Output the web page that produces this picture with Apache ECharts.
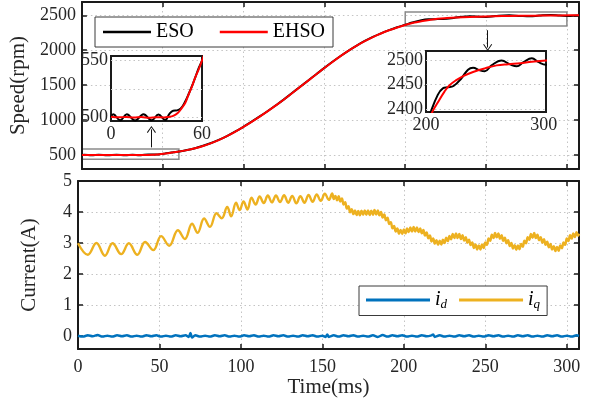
<!DOCTYPE html>
<html>
<head>
<meta charset="utf-8">
<script src="https://cdn.jsdelivr.net/npm/echarts@6/dist/echarts.min.js"></script>
<style>
  html, body { margin: 0; padding: 0; background: #fff; }
  #chart { width: 595px; height: 405px; }
</style>
</head>
<body>
<div id="chart"></div>
<script>
// Speed response, [time (ms), speed (rpm)]
const esoSpeed = [
  [0,500.5],[1.5,502.9],[6,497.6],[10.4,502.9],[15.9,497.4],[21.4,503.0],[26.9,497.6],[31.3,502.8],[35.7,497.8],
  [38.6,503.5],[41,506.0],[43.5,506.3],[46,508.0],[48.5,513],[51,520],[53.5,528],[55.5,535],[58,544],[60,550],
  [65,571],[70,598],[75,632],[80,672],[85,720],[90,775],[95,837],[100,905],[105,977],[110,1052],[115,1130],
  [120,1212],[125,1297],[130,1387],[135,1477],[140,1567],[145,1657],[150,1747],[155,1834],[160,1917],[165,1995],
  [170,2067],[175,2132],[180,2190],[185,2241],[190,2287],[195,2328],[200,2364],[204.3,2396.6],[210,2429.6],
  [214.3,2442.8],[218.5,2444.8],[223.4,2447.4],[230,2462.6],[235.7,2480.4],[240,2484.3],[245.7,2479],[250,2477],
  [255.7,2489],[264.3,2498.8],[271.4,2491],[277.2,2487],[282.8,2495.5],[290,2503.4],[295.7,2495.5],[302,2490.3],
  [307.5,2496]
];
const ehsoSpeed = [
  [0,500.8],[5,500.2],[10,500.6],[15,500.0],[20,500.4],[25,499.9],[30,500.3],[35,500.1],[38,500.6],[41,501.5],
  [44,504],[46.5,508],[49,513],[51,519.7],[53,526],[55.5,535],[58,543],[60,550],
  [65,570],[70,597],[75,630],[80,670],[85,718],[90,773],[95,835],[100,903],[105,975],[110,1050],[115,1128],
  [120,1210],[125,1295],[130,1385],[135,1475],[140,1565],[145,1655],[150,1745],[155,1832],[160,1915],[165,1993],
  [170,2065],[175,2130],[180,2188],[185,2239],[190,2285],[195,2326],[200,2362],[205.7,2396.6],[210,2414],
  [215.7,2436.2],[220,2449],[225.7,2459.3],[232,2468],[240,2475.7],[250,2483],[260,2489],[270,2491.5],
  [280,2493.5],[290,2496.5],[302,2498.8],[307.5,2499.5]
];

// Stator currents, [time (ms), current (A)]
const idCurrent = [
  [0,0.01],[3,-0.02],[6,0.02],[9,-0.01],[12,0.03],[15,-0.02],[18,0.01],[21,-0.02],[24,0.02],[27,-0.01],
  [30,0.02],[33,-0.02],[36,0.01],[39,-0.02],[42,0.02],[45,-0.01],[48,0.02],[51,-0.02],[54,0.01],[57,-0.02],
  [60,0.02],[63,-0.01],[66,0.02],[68,-0.03],[69,0.10],[70,-0.05],[72,0.02],[75,-0.02],[78,0.01],[81,-0.02],
  [84,0.02],[87,-0.01],[90,0.02],[93,-0.02],[96,0.01],[99,-0.02],[102,0.02],[105,-0.01],[108,0.02],[111,-0.02],
  [114,0.01],[117,-0.02],[120,0.02],[123,-0.01],[126,0.02],[129,-0.02],[132,0.01],[135,-0.02],[138,0.02],[141,-0.01],
  [144,0.02],[147,-0.02],[150,0.01],[152,-0.03],[153,0.05],[154,-0.03],[157,0.02],[160,-0.02],[163,0.02],[166,-0.01],
  [169,0.02],[172,-0.02],[175,0.01],[178,-0.02],[181,0.02],[184,-0.03],[187,0.03],[190,-0.02],[193,0.02],[196,-0.01],
  [199,0.02],[202,-0.02],[205,0.01],[208,-0.02],[211,0.02],[214,-0.01],[217,0.02],[218,0.05],[219,-0.03],[222,0.02],
  [225,-0.02],[228,0.01],[231,-0.02],[234,0.02],[237,-0.01],[240,0.02],[243,-0.02],[246,0.01],[249,-0.02],[252,0.02],
  [255,-0.01],[258,0.02],[261,-0.02],[264,0.01],[267,-0.02],[270,0.02],[273,-0.01],[276,0.02],[279,-0.02],[282,0.01],
  [285,-0.02],[288,0.02],[291,-0.01],[294,0.02],[297,-0.02],[300,0.01],[303,-0.02],[306,0.02],[307.5,0.0]
];
const iqCurrent = [
  [0,2.99],[6,2.62],[11.3,3.00],[16.5,2.59],[21.2,2.99],[26.5,2.64],[31.2,2.99],[36.4,2.62],[41.2,3.03],[46.2,2.77],
  [51,3.22],[56,2.91],[61.3,3.41],[65.6,3.13],[70,3.62],[73.4,3.33],[77.4,3.79],[81,3.52],[85,3.96],[88.2,3.80],
  [91.6,4.16],[94,3.86],[97,4.30],[99.2,4.06],[101.6,4.34],[104,4.08],[106.5,4.46],[109,4.24],[111.5,4.50],[114,4.29],
  [116.5,4.53],[119,4.31],[121.5,4.53],[124,4.32],[126.5,4.54],[129,4.30],[131.5,4.52],[134,4.28],[136.5,4.51],[139,4.30],
  [141.5,4.55],[144,4.33],[146.5,4.57],[149,4.36],[151.5,4.59],[154,4.39],[156,4.60],[157,4.42],
  [158,4.52],[159,4.38],[160,4.51],[161,4.34],[162,4.44],[163,4.24],[164,4.32],[165,4.11],[166,4.19],[167,3.99],
  [168,4.09],[169,3.93],[170,4.05],[171,3.90],[172,4.03],[173,3.89],[174,4.04],[175,3.91],[176,4.05],[177,3.91],
  [178,4.05],[179,3.90],[180,4.04],[181,3.91],[182,4.07],[183,3.92],[184,4.05],[185,3.89],[186,4.00],[187,3.82],
  [188,3.92],[189,3.73],[190,3.82],[191,3.61],[192,3.67],[193,3.47],[194,3.55],[195,3.37],[196,3.47],[197,3.30],
  [198,3.42],[199,3.29],[200,3.44],[201,3.31],[202,3.47],[203,3.35],[204,3.50],[205,3.37],[206,3.52],[207,3.37],
  [208,3.50],[209,3.35],[210,3.47],[211,3.31],[212,3.42],[213,3.24],[214,3.34],[215,3.15],[216,3.24],[217,3.05],
  [218,3.15],[219,2.98],[220,3.09],[221,2.94],[222,3.07],[223,2.95],[224,3.11],[225,3.00],[226,3.17],[227,3.06],
  [228,3.23],[229,3.12],[230,3.29],[231,3.16],[232,3.31],[233,3.16],[234,3.29],[235,3.13],[236,3.25],[237,3.08],
  [238,3.19],[239,3.01],[240,3.11],[241,2.93],[242,3.02],[243,2.84],[244,2.95],[245,2.79],[246,2.92],[247,2.79],
  [248,2.95],[249,2.84],[250,3.02],[251,2.94],[252,3.15],[253,3.07],[254,3.27],[255,3.16],[256,3.32],[257,3.18],
  [258,3.31],[259,3.14],[260,3.25],[261,3.07],[262,3.17],[263,2.99],[264,3.09],[265,2.90],[266,3.00],[267,2.82],
  [268,2.93],[269,2.78],[270,2.92],[271,2.80],[272,2.97],[273,2.88],[274,3.07],[275,2.99],[276,3.19],[277,3.10],
  [278,3.29],[279,3.17],[280,3.32],[281,3.16],[282,3.27],[283,3.09],[284,3.19],[285,3.01],[286,3.12],[287,2.94],
  [288,3.04],[289,2.86],[290,2.97],[291,2.79],[292,2.90],[293,2.74],[294,2.87],[295,2.75],[296,2.92],[297,2.83],
  [298,3.02],[299,2.94],[300,3.15],[301,3.06],[302,3.25],[303,3.14],[304,3.31],[305,3.19],[306,3.35],[307,3.23],
  [307.5,3.30]
];

// Tick values
const timeTicks = [0, 50, 100, 150, 200, 250, 300];
const speedTicks = [500, 1000, 1500, 2000, 2500];
const currentTicks = [0, 1, 2, 3, 4, 5];
const lowZoomTimeTicks = [0, 60];
const lowZoomSpeedGrid = [500, 525, 550];
const lowZoomSpeedLabels = [500, 550];
const highZoomTimeTicks = [200, 300];
const highZoomSpeedTicks = [2400, 2450, 2500];

// Regions magnified in the insets and the pointer arrows, in data units
const zoomBoxes = [
  [[0, 440], [60, 585]],
  [[200, 2345], [300, 2547]]
];
const zoomArrows = [
  [[43, 610], [43, 867]],
  [[251, 2286], [251, 2039]]
];

const FONT = '"Liberation Serif", "Times New Roman", serif';
const INK = '#1a1a1a';
const TEXT = '#262626';
const plain = (v) => String(v);

const dotted = { show: true, lineStyle: { color: '#c4c4c4', width: 1, type: [1.5, 3] } };
const frameLine = { show: true, onZero: false, lineStyle: { color: INK, width: 2 } };

function frameAxis(gridIndex, position, min, max, ticks, extra) {
  return Object.assign({
    type: 'value', gridIndex, position, min, max, z: 3,
    axisLine: frameLine,
    axisTick: { show: true, inside: true, length: 5, customValues: ticks, lineStyle: { color: INK, width: 1.5 } },
    axisLabel: { show: false },
    splitLine: { show: false }
  }, extra || {});
}

function mainAxis(gridIndex, position, min, max, ticks, extra) {
  return frameAxis(gridIndex, position, min, max, ticks, Object.assign({
    z: position === 'left' ? 2 : 1,
    splitLine: Object.assign({}, dotted),
    axisLabel: { show: false }
  }, extra || {}));
}

function insetAxis(gridIndex, position, min, max, gridTicks, labelTicks, margin, showSplit) {
  return {
    type: 'value', gridIndex, position, min, max, z: 6,
    axisLine: { show: false },
    axisTick: { show: false, customValues: gridTicks },
    axisLabel: { show: true, customValues: labelTicks, margin, formatter: plain, fontFamily: FONT, fontSize: 18, color: TEXT },
    splitLine: showSplit ? Object.assign({}, dotted) : { show: false }
  };
}

const tickLabel = (margin, values) => ({ show: true, customValues: values, margin, formatter: plain, fontFamily: FONT, fontSize: 18, color: TEXT });
const nameStyle = { fontFamily: FONT, fontSize: 21, color: TEXT };

const chevron = 'path://M0,0 L5,8 L4.1,8.7 L0,2 L-4.1,8.7 L-5,8 Z';

const option = {
  animation: false,
  backgroundColor: '#fff',
  grid: [
    { left: 78, top: 2, width: 501, height: 167 },
    { left: 78, top: 181, width: 501, height: 168 },
    { left: 111, top: 56, width: 91, height: 65, show: true, z: 5, backgroundColor: '#fff', borderColor: INK, borderWidth: 2 },
    { left: 426, top: 51, width: 120, height: 61, show: true, z: 5, backgroundColor: '#fff', borderColor: INK, borderWidth: 2 }
  ],
  xAxis: [
    mainAxis(0, 'bottom', 0, 307.5, timeTicks, { z: 1 }),
    frameAxis(0, 'top', 0, 307.5, timeTicks),
    mainAxis(1, 'bottom', 0, 307.5, timeTicks, {
      z: 1,
      axisLabel: tickLabel(9, timeTicks),
      name: 'Time(ms)', nameLocation: 'middle', nameGap: 28, nameTextStyle: nameStyle
    }),
    frameAxis(1, 'top', 0, 307.5, timeTicks),
    insetAxis(2, 'bottom', 0, 60, lowZoomTimeTicks, lowZoomTimeTicks, 4, false),
    insetAxis(3, 'bottom', 200, 302, highZoomTimeTicks, highZoomTimeTicks, 4, false)
  ],
  yAxis: [
    mainAxis(0, 'left', 300, 2690, speedTicks, {
      axisLabel: tickLabel(6, speedTicks),
      name: 'Speed(rpm)', nameLocation: 'middle', nameGap: 38, nameTextStyle: nameStyle
    }),
    frameAxis(0, 'right', 300, 2690, speedTicks),
    mainAxis(1, 'left', -0.42, 5, currentTicks, {
      axisLabel: tickLabel(6, currentTicks),
      name: 'Current(A)', nameLocation: 'middle', nameGap: 38, nameTextStyle: nameStyle
    }),
    frameAxis(1, 'right', -0.42, 5, currentTicks),
    insetAxis(2, 'left', 497, 554, lowZoomSpeedGrid, lowZoomSpeedLabels, 3, true),
    insetAxis(3, 'left', 2395, 2518, highZoomSpeedTicks, highZoomSpeedTicks, 3, true)
  ],
  legend: [
    {
      data: ['ESO', 'EHSO'], left: 95, top: 17, orient: 'horizontal', z: 10,
      padding: [5, 8], itemWidth: 48, itemHeight: 2.5, itemGap: 26, icon: 'rect',
      backgroundColor: '#fff', borderColor: '#3a3a3a', borderWidth: 1, selectedMode: false,
      textStyle: { fontFamily: FONT, fontSize: 20, color: '#000' }
    },
    {
      data: ['id', 'iq'], left: 359, top: 286, orient: 'horizontal', z: 10,
      padding: [4, 7], itemWidth: 64, itemHeight: 3, itemGap: 12, icon: 'rect',
      backgroundColor: '#fff', borderColor: '#3a3a3a', borderWidth: 1, selectedMode: false,
      formatter: (name) => '{i|i}{s|' + name.slice(1) + '}',
      textStyle: {
        fontFamily: FONT, fontSize: 18, color: '#000',
        rich: {
          i: { fontFamily: FONT, fontStyle: 'italic', fontSize: 20, color: '#000' },
          s: { fontFamily: FONT, fontStyle: 'italic', fontSize: 13, color: '#000', padding: [10, 0, 0, 0] }
        }
      }
    }
  ],
  series: [
    {
      name: 'ESO', type: 'line', xAxisIndex: 0, yAxisIndex: 0, data: esoSpeed,
      showSymbol: false, smooth: 0.4, color: '#000', lineStyle: { color: '#000', width: 2 },
      markArea: {
        silent: true,
        itemStyle: { color: 'rgba(0,0,0,0)', borderColor: '#8a8a8a', borderWidth: 1.5 },
        data: zoomBoxes.map(([a, b]) => [{ coord: a }, { coord: b }])
      },
      markLine: {
        silent: true, symbol: ['none', chevron], symbolSize: [9, 7],
        lineStyle: { color: '#111', width: 1, type: 'solid' }, label: { show: false },
        data: zoomArrows.map(([a, b]) => [{ coord: a }, { coord: b }])
      }
    },
    {
      name: 'EHSO', type: 'line', xAxisIndex: 0, yAxisIndex: 0, data: ehsoSpeed,
      showSymbol: false, smooth: 0.4, color: '#ff0000', lineStyle: { color: '#ff0000', width: 2 }
    },
    {
      name: 'ESO', type: 'line', xAxisIndex: 4, yAxisIndex: 4, data: esoSpeed, z: 7,
      showSymbol: false, smooth: 0.4, color: '#000', lineStyle: { color: '#000', width: 2 }
    },
    {
      name: 'EHSO', type: 'line', xAxisIndex: 4, yAxisIndex: 4, data: ehsoSpeed, z: 7,
      showSymbol: false, smooth: 0.4, color: '#ff0000', lineStyle: { color: '#ff0000', width: 2 }
    },
    {
      name: 'ESO', type: 'line', xAxisIndex: 5, yAxisIndex: 5, data: esoSpeed, z: 7,
      showSymbol: false, smooth: 0.4, color: '#000', lineStyle: { color: '#000', width: 2 }
    },
    {
      name: 'EHSO', type: 'line', xAxisIndex: 5, yAxisIndex: 5, data: ehsoSpeed, z: 7,
      showSymbol: false, smooth: 0.4, color: '#ff0000', lineStyle: { color: '#ff0000', width: 2 }
    },
    {
      name: 'id', type: 'line', xAxisIndex: 2, yAxisIndex: 2, data: idCurrent,
      showSymbol: false, smooth: 0.3, color: '#0072bd', lineStyle: { color: '#0072bd', width: 2.5 }
    },
    {
      name: 'iq', type: 'line', xAxisIndex: 2, yAxisIndex: 2, data: iqCurrent,
      showSymbol: false, smooth: 0.4, color: '#edb120', lineStyle: { color: '#edb120', width: 2.4 }
    }
  ]
};

const chart = echarts.init(document.getElementById('chart'), null, { renderer: 'canvas' });
chart.setOption(option);
</script>
</body>
</html>
